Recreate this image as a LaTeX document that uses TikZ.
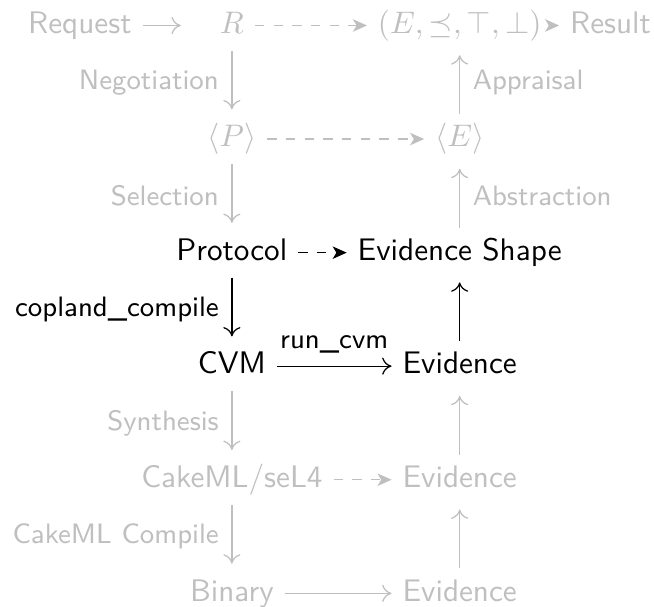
\documentclass[tikz,border=0pt]{standalone}
\usepackage{fontspec}
\usepackage{tikz}
\usetikzlibrary{positioning,arrows.meta}
\colorlet{faded}{black!25}
\tikzset{
  cell/.style={anchor=base, font=\sffamily, text height=7pt, text depth=2pt},
  dim/.style={faded},
  lbl/.style={font=\sffamily\small, inner sep=4pt},
  solid tip/.style={-{To[length=3pt,width=5.5pt]}},
  vert/.style={solid tip, shorten >=1.5pt},
  dash tip/.style={dashed, -{Stealth[length=4.5pt,width=4pt,inset=1.2pt]}}
}
\begin{document}
\begin{tikzpicture}
                \useasboundingbox (0,0) rectangle (7.37,6.83);

                \node[cell,dim] (req)    at (.90,6.455)  {Request};
                \node[cell,dim] (R)      at (2.613,6.455) {\(R\)};
                \node[cell,dim] (ord)    at (5.18,6.455)  {\((E,\preceq,\top,\bot)\)};
                \node[cell,dim] (res)    at (6.88,6.455)  {Result};

                \node[cell,dim] (P)      at (2.613,5.175) {\(\langle P\rangle\)};
                \node[cell,dim] (E)      at (5.18,5.175)  {\(\langle E\rangle\)};

                \node[cell]     (proto)  at (2.613,3.895) {Protocol};
                \node[cell]     (shape)  at (5.18,3.895)  {Evidence Shape};

                \node[cell]     (cvm)    at (2.613,2.616) {CVM};
                \node[cell]     (ev1)    at (5.18,2.616)  {Evidence};

                \node[cell,dim] (cake)   at (2.613,1.336) {CakeML/seL4};
                \node[cell,dim] (ev2)    at (5.18,1.336)  {Evidence};

                \node[cell,dim] (bin)    at (2.613,.056)  {Binary};
                \node[cell,dim] (ev3)    at (5.18,.056)   {Evidence};

                \path[faded]
                (req)   edge [solid tip, shorten >=9pt] (R)
                (R)     edge [dash tip]  (ord)
                (ord)   edge [-{Stealth[length=4.5pt,width=4pt,inset=1.2pt]}] (res)
                (P)     edge [dash tip]  (E)
                (R)     edge [vert] node[lbl,left]  {Negotiation} (P)
                (E)     edge [vert] node[lbl,right] {Appraisal}   (ord)
                (P)     edge [vert] node[lbl,left]  {Selection}   (proto)
                (shape) edge [vert] node[lbl,right] {Abstraction} (E)
                (cvm)   edge [vert] node[lbl,left]  {Synthesis}   (cake)
                (ev2)   edge [vert] (ev1)
                (cake)  edge [dash tip]  (ev2)
                (cake)  edge [vert] node[lbl,left]  {CakeML Compile} (bin)
                (ev3)   edge [vert] (ev2)
                (bin)   edge [solid tip] (ev3);

                \path
                (proto) edge [dash tip]  (shape)
                (proto) edge [vert] node[lbl,left]  {copland\_compile} (cvm)
                (cvm)   edge [solid tip] node[lbl,above] {run\_cvm} (ev1)
                (ev1)   edge [vert] (shape);
            \end{tikzpicture}
\end{document}
